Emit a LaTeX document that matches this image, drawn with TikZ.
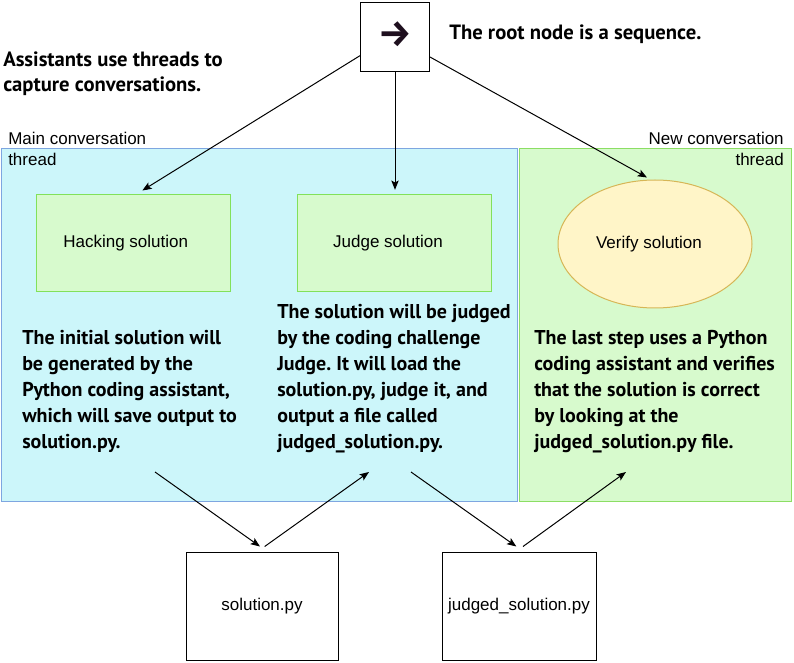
\documentclass[tikz,border=0pt]{standalone}
\usepackage{fontspec}
\setmainfont{Liberation Sans}
\newfontfamily\gfont{PT Sans}
\newfontfamily\symfont{Fira Sans}
\frenchspacing
\usetikzlibrary{arrows.meta,shapes.geometric,calc}
\definecolor{bluefill}{RGB}{204,246,250}
\definecolor{blueline}{RGB}{126,166,224}
\definecolor{greenfill}{RGB}{215,250,205}
\definecolor{greenline}{RGB}{140,222,100}
\definecolor{boxfill}{RGB}{215,250,205}
\definecolor{boxline}{RGB}{130,225,90}
\definecolor{ellfill}{RGB}{255,245,200}
\definecolor{ellline}{RGB}{214,182,86}
\definecolor{glyph}{RGB}{30,15,30}
\begin{document}
\begin{tikzpicture}[x=0.75pt,y=-0.75pt,
  lbl/.style={font=\fontsize{12.75}{15}\selectfont, inner sep=0pt},
  notetxt/.style={font=\gfont\bfseries\fontsize{15}{19.5}\selectfont, align=left, inner sep=0pt, anchor=north west},
  stepbox/.style={draw=boxline, fill=boxfill, line width=0.75pt, minimum width=145.5pt, minimum height=72.75pt, font=\fontsize{12.75}{15}\selectfont, inner sep=0pt},
  verifybox/.style={ellipse, draw=ellline, fill=ellfill, line width=0.75pt, minimum width=145.5pt, minimum height=96pt, font=\fontsize{12.75}{15}\selectfont, inner sep=0pt},
  filebox/.style={draw=black, fill=white, line width=0.75pt, minimum height=80.25pt, font=\fontsize{12.75}{15}\selectfont, inner sep=0pt},
  arr/.style={-{Stealth[length=7pt,width=5.5pt,inset=1.5pt]}, line width=0.75pt}
]
\fill[white] (0,0) rectangle (794,663);
\useasboundingbox (0,0) rectangle (794,663);

% panels
\draw[draw=blueline, fill=bluefill, line width=0.75pt] (1,149) rectangle (517,502);
\draw[draw=greenline, fill=greenfill, line width=0.75pt] (519,149) rectangle (791,502);

\node[lbl, anchor=base west] (mainlbl) at (8,145) {Main conversation};
\node[lbl, anchor=base west] (mainthr) at (8,166) {thread};
\node[lbl, anchor=base east] (newlbl) at (784,145) {New conversation};
\node[lbl, anchor=base east] (newthr) at (784,166) {thread};

% title texts
\node[notetxt, font=\gfont\bfseries\fontsize{15.5}{18.5}\selectfont] (title) at (3,52) {Assistants use threads to\\capture conversations.};
\node[notetxt, font=\gfont\bfseries\fontsize{15.5}{18.5}\selectfont, anchor=base west] (roottxt) at (449,40) {The root node is a sequence.};

% root
\node[draw, line width=0.75pt, fill=white, minimum size=51.75pt, inner sep=0pt] (root) at (395,37) {};
\node[inner sep=0pt, text=glyph] (rootsym) at (395,34) {\symfont\bfseries\fontsize{28}{28}\selectfont →};

% step boxes
\node[stepbox] (hack) at (133,243.5) {Hacking solution\hspace*{11pt}};
\node[stepbox] (judge) at (394,243.5) {Judge solution\hspace*{9pt}};
\node[verifybox] (verify) at (655,244) {Verify solution\hspace*{9pt}};

% notes
\node[notetxt] (note1) at (22,330) {The initial solution will\\be generated by the\\Python coding assistant,\\which will save output to\\solution.py.};
\node[notetxt] (note2) at (277,304) {The solution will be judged\\by the coding challenge\\Judge. It will load the\\solution.py, judge it, and\\output a file called\\judged\_solution.py.};
\node[notetxt] (note3) at (534,330) {The last step uses a Python\\coding assistant and verifies\\that the solution is correct\\by looking at the\\judged\_solution.py file.};

% file boxes
\node[filebox, minimum width=114pt] (solpy) at (262,606.5) {solution.py};
\node[filebox, minimum width=115.5pt] (judgedpy) at (519,606.5) {judged\_solution.py};

% connectors
\draw[arr] ([yshift=-14pt]root.west) -- ([xshift=7pt,yshift=3pt]hack.north);
\draw[arr] (root.south) -- ([yshift=3.5pt]root.south |- judge.north);
\draw[arr] ([yshift=-15pt]root.east) -- ([xshift=-6pt,yshift=1.5pt]verify.north);

\coordinate (c1) at (155,472);
\coordinate (c2) at (369,472);
\coordinate (c3) at (411,472);
\coordinate (c4) at (626,472);
\draw[arr] (c1) -- ([xshift=-1.5pt,yshift=4.5pt]solpy.north);
\draw[arr] ([xshift=2pt,yshift=4.5pt]solpy.north) -- (c2);
\draw[arr] (c3) -- ([xshift=-2pt,yshift=4.5pt]judgedpy.north);
\draw[arr] ([xshift=3pt,yshift=4.5pt]judgedpy.north) -- (c4);
\end{tikzpicture}
\end{document}
